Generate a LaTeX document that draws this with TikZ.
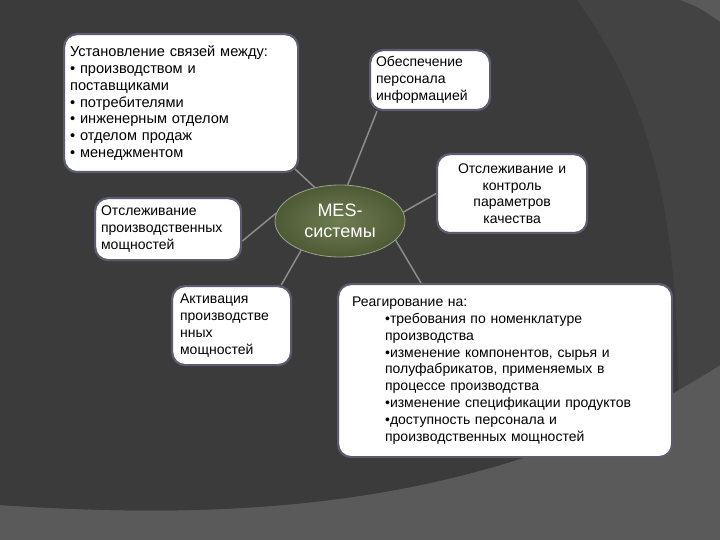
\documentclass[tikz,border=0pt]{standalone}
\usepackage{fontspec}
\setmainfont{Liberation Sans}
\usetikzlibrary{shapes.geometric,calc}
\definecolor{bgdark}{HTML}{3B3B3B}
\definecolor{bgmid}{HTML}{434343}
\definecolor{bglight}{HTML}{5A5A5A}
\definecolor{cardedge}{HTML}{5C5C70}
\definecolor{linkgray}{HTML}{8C8C8C}
\definecolor{mesin}{HTML}{6F7D52}
\definecolor{mesout}{HTML}{4E5A35}
\definecolor{mesedge}{HTML}{9AA38A}
\pgfdeclareradialshading{cardshade}{\pgfpoint{0bp}{0bp}}{color(0bp)=(white); color(42bp)=(white); color(50bp)=(black!10)}
\pgfdeclarelayer{backdrop}
\pgfdeclarelayer{links}
\pgfsetlayers{backdrop,links,main}
\tikzset{
  card/.style={draw=cardedge, line width=2.2pt, shade, shading=cardshade,
    rounded corners=13pt, anchor=north west, align=left,
    font=\fontsize{14}{16.8}\selectfont, text=black, inner xsep=6pt, inner ysep=0pt},
  mesnode/.style={ellipse, minimum width=130pt, minimum height=72pt,
    inner color=mesin, outer color=mesout, draw=mesedge, line width=0.8pt,
    text=white, font=\fontsize{18}{21}\selectfont, align=center, inner sep=0pt},
  link/.style={draw=linkgray, line width=1.5pt}
}
\begin{document}
\begin{tikzpicture}[x=1pt,y=-1pt]
\begin{pgfonlayer}{backdrop}
\fill[bglight] (0,0) rectangle (720,540);
\fill[bgmid] (0,0) -- (680,0) .. controls (700,8) .. (720,22) -- (720,365) .. controls (480,520) and (200,518) .. (0,505) -- cycle;
\begin{scope}
\clip (0,0) -- (720,0) -- (720,365) .. controls (480,520) and (200,518) .. (0,505) -- cycle;
\fill[bgdark] (0,0) -- (577,0) .. controls (640,90) and (676,180) .. (678,380) -- (678,540) -- (0,540) -- cycle;
\end{scope}
\end{pgfonlayer}
\useasboundingbox (0,0) rectangle (720,540);

\node[mesnode] (mes) at (340,221) {MES-\\системы};

\node[card, text width=222pt, minimum height=138pt, font=\fontsize{14.6}{16.8}\selectfont] (links1) at (63,33)
  {Установление связей между:\\• производством и\\поставщиками\\• потребителями\\• инженерным отделом\\• отделом продаж\\• менеджментом};
\node[card, text width=108pt, minimum height=60pt] (staff) at (369,49)
  {Обеспечение\\персонала\\информацией};
\node[card, text width=138pt, minimum height=79pt, align=center] (quality) at (436,153)
  {Отслеживание и\\контроль\\параметров\\качества};
\node[card, text width=134pt, minimum height=62pt] (capmon) at (94,197)
  {Отслеживание\\производственных\\мощностей};
\node[card, text width=103pt, inner xsep=8pt, minimum height=79pt] (activ) at (171,285)
  {Активация\\производстве\\нных\\мощностей};
\node[card, text width=306pt, inner xsep=14pt, minimum height=173pt] (react) at (337,283)
  {Реагирование на:\\
   \hspace*{33pt}•требования по номенклатуре\\
   \hspace*{33pt}производства\\
   \hspace*{33pt}•изменение компонентов, сырья и\\
   \hspace*{33pt}полуфабрикатов, применяемых в\\
   \hspace*{33pt}процессе производства\\
   \hspace*{33pt}•изменение спецификации продуктов\\
   \hspace*{33pt}•доступность персонала и\\
   \hspace*{33pt}производственных мощностей};

\begin{pgfonlayer}{links}
\draw[link] (mes.127) -- ($(links1.south east)+(-5,-5)$);
\draw[link] (mes.78) -- ($(staff.south west)+(8,0)$);
\draw[link] (mes.8) -- (quality.west);
\draw[link] (mes.173) -- ($(capmon.east)+(0,12)$);
\draw[link] (mes.217) -- ($(activ.north east)+(-11,0)$);
\draw[link] (mes.341) -- ($(react.north west)+(84,0)$);
\end{pgfonlayer}
\end{tikzpicture}
\end{document}
